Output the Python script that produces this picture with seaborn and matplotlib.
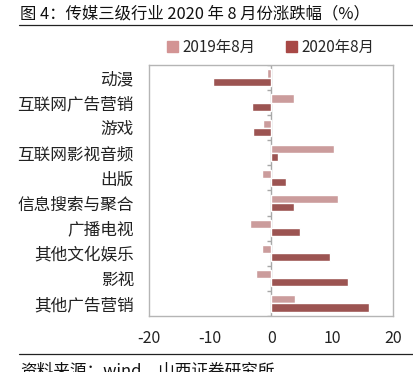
import numpy as np
import pandas as pd
import seaborn as sns
import matplotlib.pyplot as plt

# data
categories = ['动漫', '互联网广告营销', '游戏', '互联网影视音频', '出版',
              '信息搜索与聚合', '广播电视', '其他文化娱乐', '影视', '其他广告营销']
chg_2019 = [-0.6, 3.8, -1.3, 10.3, -1.5, 11.0, -3.5, -1.5, -2.5, 3.9]
chg_2020 = [-9.6, -3.1, -3.0, 1.1, 2.4, 3.7, 4.7, 9.7, 12.6, 16.0]
series = ['2019年8月', '2020年8月']
xticks = [-20, -10, 0, 10, 20]

df = pd.DataFrame({
    'cat': categories * 2,
    'val': chg_2019 + chg_2020,
    'period': [series[0]] * len(categories) + [series[1]] * len(categories),
})

sns.set_style('white')
plt.rcParams['font.family'] = ['Noto Sans CJK SC', 'DejaVu Sans']
plt.rcParams['axes.unicode_minus'] = False

fig = plt.figure(figsize=(4.13, 3.72), dpi=100)
ax = fig.add_axes([0.361, 0.151, 0.591, 0.674])

sns.barplot(data=df, x='val', y='cat', hue='period', order=categories,
            hue_order=series, palette=['#D39494', '#A84846'], width=0.66,
            orient='h', ax=ax, legend=False)

ax.set_xlim(-20, 20)
ax.set_ylim(len(categories) - 0.5, -0.5)
ax.set_xticks(xticks)
ax.set_xticklabels([str(t) for t in xticks], fontsize=11.5)
ax.set_xlabel('')
ax.set_ylabel('')
ax.tick_params(axis='y', length=0, labelsize=12, pad=11, labelcolor='#222222')
ax.tick_params(axis='x', length=4, width=0.9, color='#AAAAAA', direction='out',
               pad=6, labelcolor='#222222')
for s in ax.spines.values():
    s.set_visible(True)
    s.set_color('#B5B5B5')
    s.set_linewidth(1.0)

# zero line with category separator ticks
ax.axvline(0, color='#A8A8A8', lw=1.0, zorder=0)
ax.hlines(np.arange(-0.5, len(categories)), -0.65, 0, color='#A8A8A8', lw=1.0)

# legend
handles = [plt.Rectangle((0, 0), 1, 1, color=c) for c in ['#D39494', '#A84846']]
fig.legend(handles, series, loc='center', bbox_to_anchor=(0.655, 0.873), ncol=2,
           frameon=False, fontsize=11, handlelength=0.7, handleheight=0.7,
           columnspacing=2.0, handletextpad=0.3)

# title and source with rules
fig.text(0.048, 0.962, '图 4：传媒三级行业 2020 年 8 月份涨跌幅（%）', fontsize=11.8,
         va='center', ha='left', color='#111111')
fig.add_artist(plt.Line2D([0.045, 1.0], [0.932, 0.932], color='#222222', lw=0.9))
fig.add_artist(plt.Line2D([0.045, 1.0], [0.048, 0.048], color='#222222', lw=0.9))
fig.text(0.048, 0.003, '资料来源：wind，山西证券研究所', fontsize=12, va='center',
         ha='left', color='#111111')

fig.savefig('out.png', dpi=100)
